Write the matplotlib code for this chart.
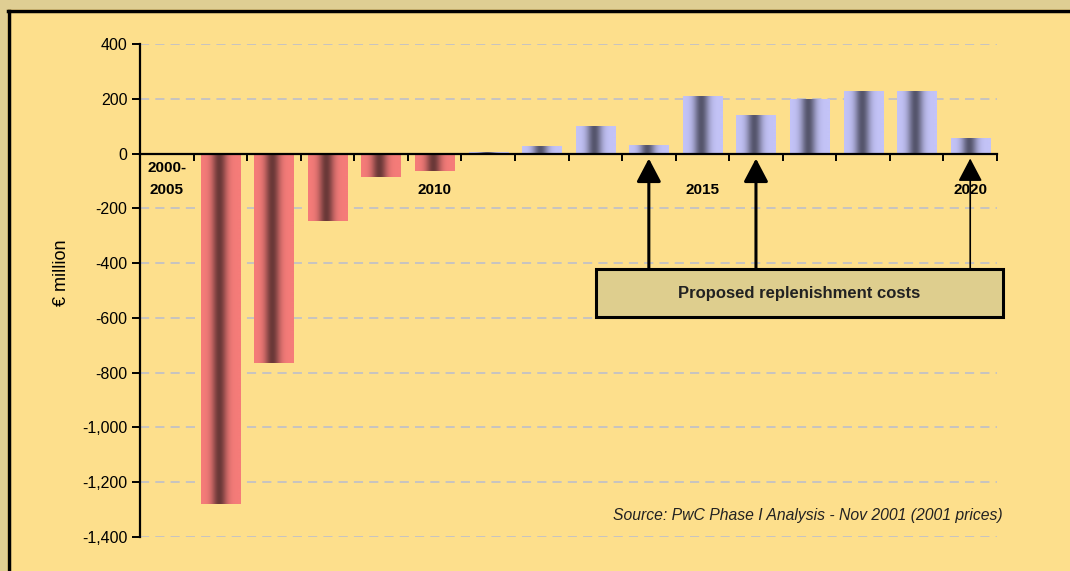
import matplotlib
matplotlib.use("Agg")
import matplotlib.pyplot as plt
import numpy as np
from matplotlib.colors import LinearSegmentedColormap
from matplotlib.patches import Rectangle, FancyArrowPatch
from matplotlib.ticker import FuncFormatter

# data (EUR million)
periods = ['2000-2005', '2006', '2007', '2008', '2009', '2010', '2011', '2012',
           '2013', '2014', '2015', '2016', '2017', '2018', '2019', '2020']
values = [0, -1280, -765, -245, -84, -65, 5, 29, 100, 30, 210, 140, 198, 228, 228, 55]
shown_labels = {'2000-2005': '2000-\n2005', '2010': '\n2010', '2015': '\n2015', '2020': '\n2020'}
arrow_targets = ['2014', '2016', '2020']
arrow_widths = [2.2, 2.2, 1.2]

BG = '#FDDF8C'
TAN = '#DFCE93'

plt.rcParams['font.family'] = ['Liberation Sans', 'DejaVu Sans']

fig = plt.figure(figsize=(10.7, 5.71), dpi=100, facecolor=BG)
ax = fig.add_axes([140 / 1070, 1 - 537 / 571, 857 / 1070, 493 / 571])
ax.set_facecolor(BG)

# frame bits at top/left of the picture
fig.patches.append(Rectangle((0, 1 - 9 / 571), 1, 9 / 571, transform=fig.transFigure,
                             facecolor=TAN, edgecolor='none', zorder=0))
fig.patches.append(Rectangle((0, 0), 7 / 1070, 1, transform=fig.transFigure,
                             facecolor=TAN, edgecolor='none', zorder=0))
fig.add_artist(plt.Line2D([7.5 / 1070, 1], [1 - 10.5 / 571] * 2, color='black', lw=2.5))
fig.add_artist(plt.Line2D([8.5 / 1070] * 2, [0, 1 - 10.5 / 571], color='black', lw=2.5))

red_cmap = LinearSegmentedColormap.from_list('red', ['#F57C79', '#6A3838'])
blue_cmap = LinearSegmentedColormap.from_list('blue', ['#C3C3F7', '#55556C'])

u = np.linspace(-1, 1, 200)
shade = np.exp(-((u + 0.08) / 0.38) ** 2)
grad = np.tile(shade, (2, 1))

width = 0.73
x = np.arange(len(periods))
for xi, v in zip(x, values):
    if v == 0:
        continue
    cmap = red_cmap if v < 0 else blue_cmap
    ax.imshow(grad, cmap=cmap, vmin=0, vmax=1, aspect='auto', interpolation='bilinear',
              extent=(xi - width / 2, xi + width / 2, min(0, v), max(0, v)), zorder=2)

ax.set_xlim(-0.5, len(periods) - 0.5)
ax.set_ylim(-1400, 400)

# grid
for g in [400, 200, -200, -400, -600, -800, -1000, -1200, -1400]:
    ax.axhline(g, color='#B9BDCF', lw=1.1, dashes=(6, 4), zorder=1)

ax.spines['top'].set_visible(False)
ax.spines['right'].set_visible(False)
ax.spines['left'].set_linewidth(1.6)
ax.spines['bottom'].set_linewidth(1.6)
ax.spines['bottom'].set_position(('data', 0))
ax.spines['bottom'].set_zorder(3)

ax.set_yticks(np.arange(-1400, 401, 200))
ax.yaxis.set_major_formatter(FuncFormatter(lambda v, p: f'{v:,.0f}'.replace('\u2212', '-')))
ax.tick_params(axis='y', direction='out', length=6, width=1.4, labelsize=11.5, pad=3)

ax.set_xticks(x)
ax.set_xticklabels([shown_labels.get(p, '') for p in periods], fontweight='bold',
                   fontsize=11, linespacing=1.75)
ax.tick_params(axis='x', which='major', length=0, pad=5)
ax.set_xticks(np.append(x[:-1] + 0.5, x[-1] + 0.5), minor=True)
ax.tick_params(axis='x', which='minor', direction='out', length=5, width=1.4)

ax.set_ylabel('€ million', fontsize=13)
ax.yaxis.set_label_coords(-0.082, 0.537)

# annotation box and arrows
box_x0, box_x1 = 8.01, 15.61
box_y0, box_y1 = -598, -422
ax.add_patch(Rectangle((box_x0, box_y0), box_x1 - box_x0, box_y1 - box_y0,
                       facecolor='#DECE8E', edgecolor='black', lw=2.2, clip_on=False, zorder=4))
ax.text((box_x0 + box_x1) / 2, (box_y0 + box_y1) / 2, 'Proposed replenishment costs',
        ha='center', va='center', fontsize=12, fontweight='bold', color='#222222', zorder=5)

for name, lw in zip(arrow_targets, arrow_widths):
    xi = periods.index(name)
    arr = FancyArrowPatch((xi, box_y1), (xi, -18), arrowstyle='-|>,head_length=0.95,head_width=0.5',
                          mutation_scale=15, color='black', lw=lw, clip_on=False, zorder=5,
                          shrinkA=0, shrinkB=0)
    ax.add_patch(arr)

ax.text(15.61, -1321, 'Source: PwC Phase I Analysis - Nov 2001 (2001 prices)',
        ha='right', va='center', fontsize=11.3, style='italic', color='#222222')

fig.savefig('out.png', dpi=100, facecolor=BG)
